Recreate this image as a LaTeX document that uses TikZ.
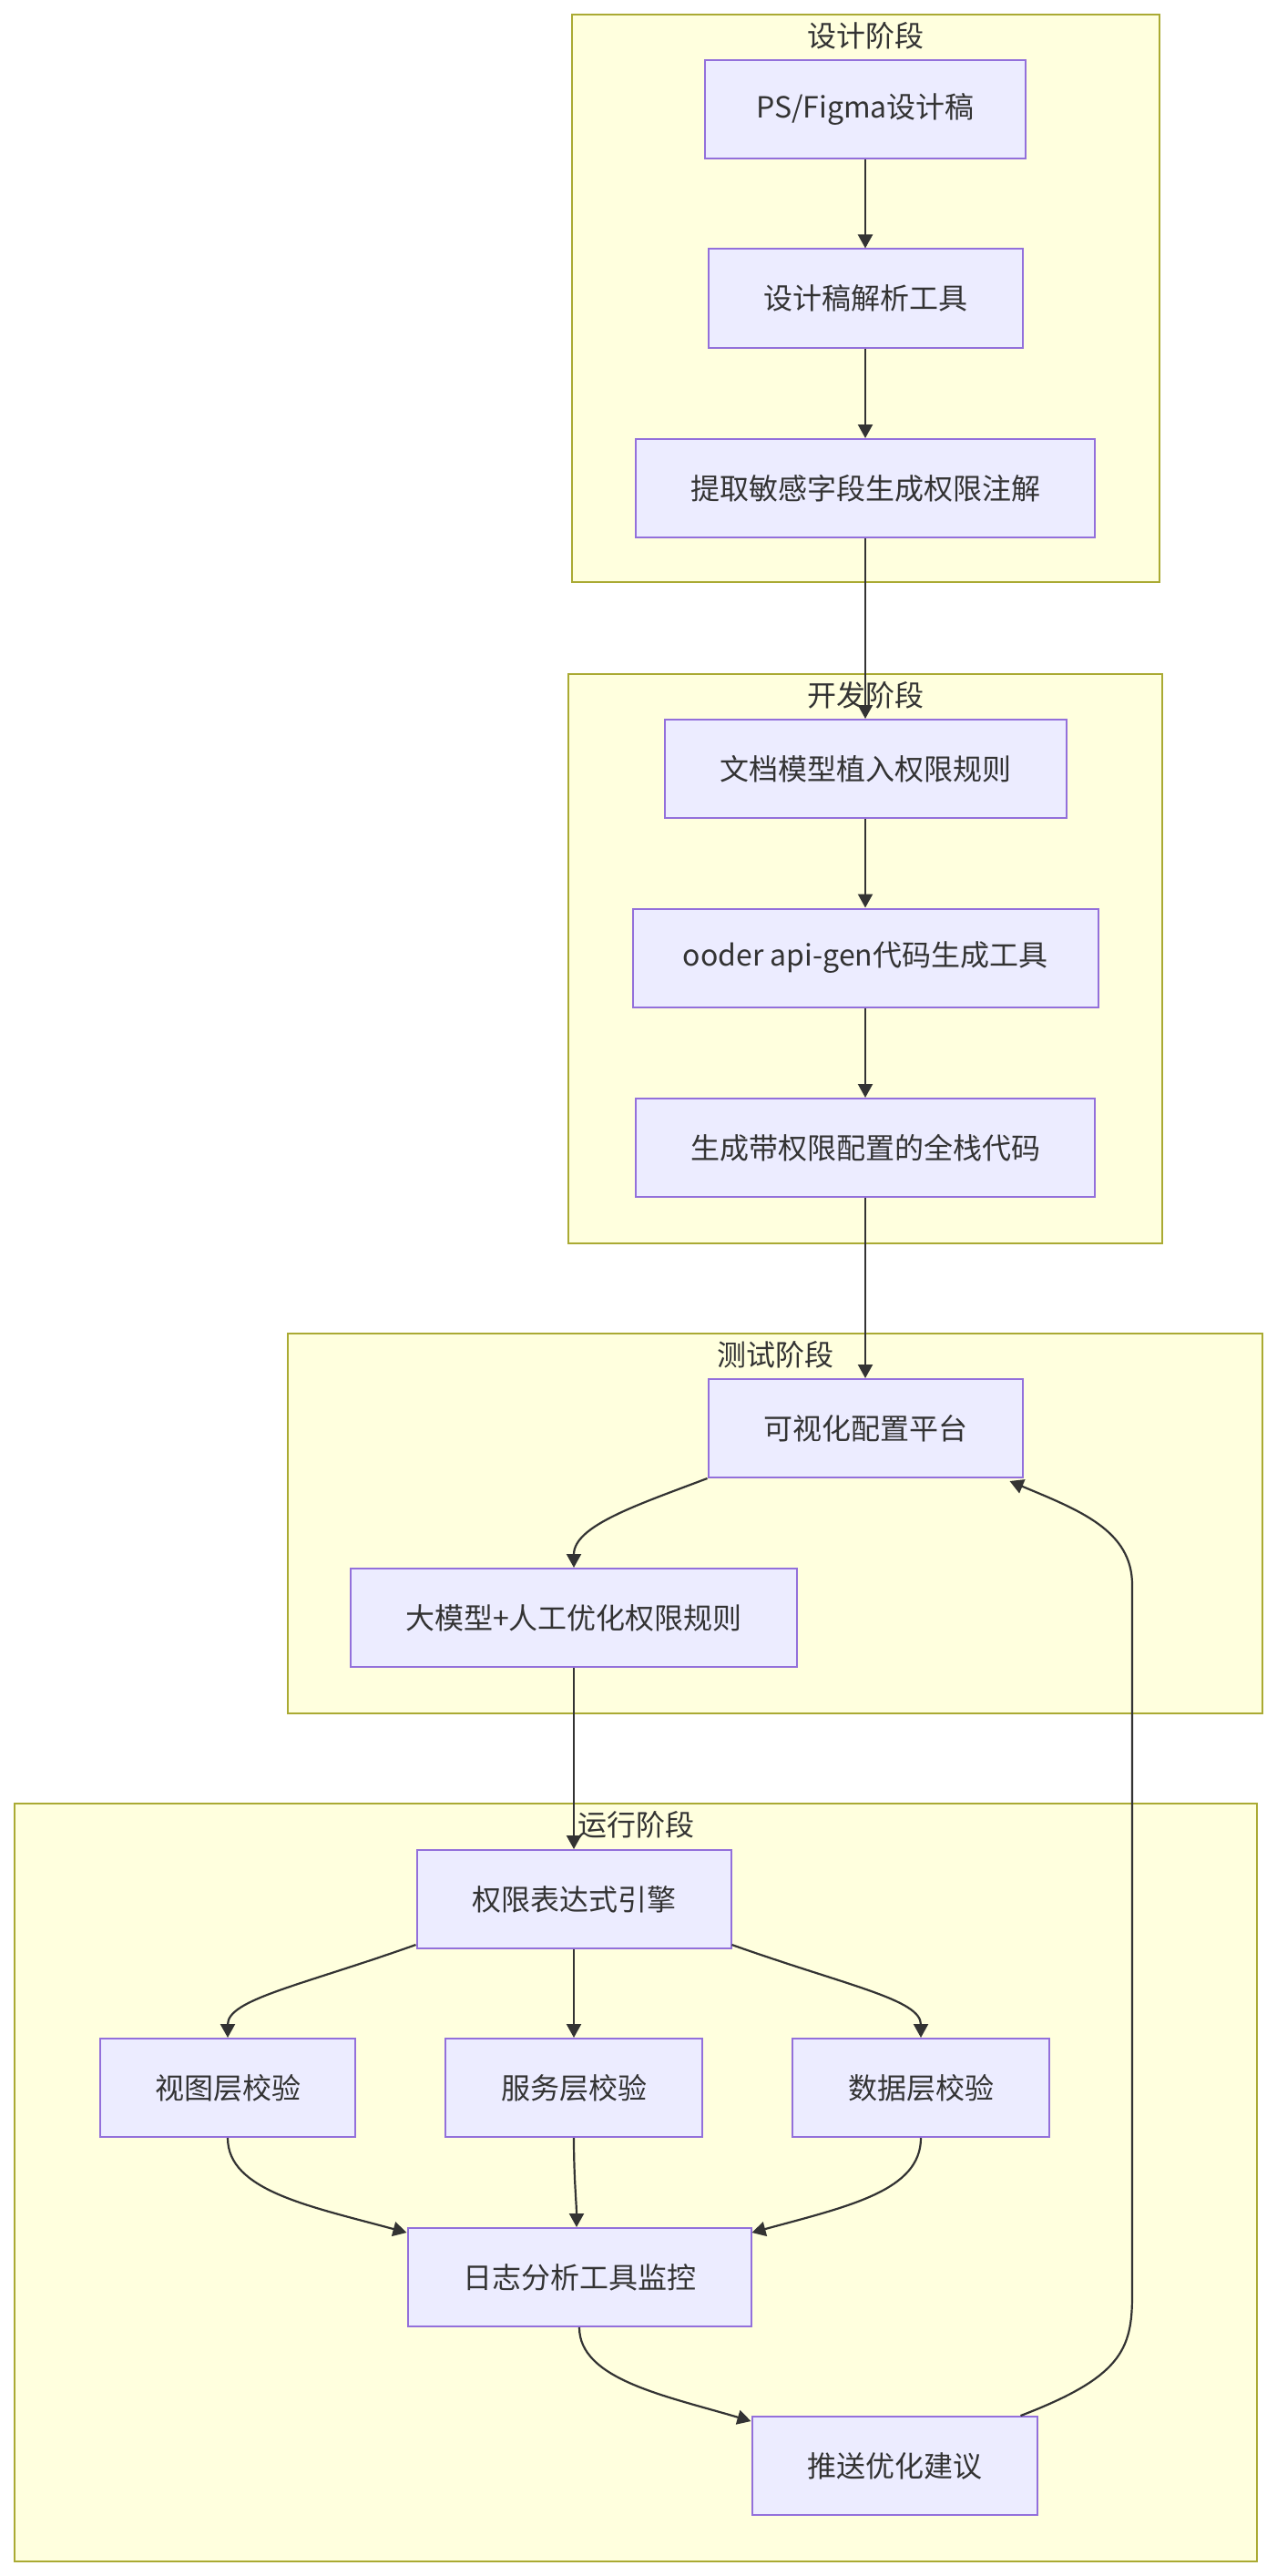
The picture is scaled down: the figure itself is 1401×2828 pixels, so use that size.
\documentclass[tikz,border=0pt]{standalone}
\usepackage{fontspec}
\setmainfont{Noto Sans CJK SC}
\usetikzlibrary{arrows.meta}
\definecolor{nodefill}{HTML}{ECECFF}
\definecolor{nodeline}{HTML}{9370DB}
\definecolor{clfill}{HTML}{FFFFDE}
\definecolor{clline}{HTML}{AAAA33}
\definecolor{txt}{HTML}{333333}
\definecolor{edgecol}{HTML}{333333}
\begin{document}
\begin{tikzpicture}[x=1pt,y=-1pt,
  box/.style={draw=nodeline, fill=nodefill, line width=2pt, minimum height=108pt, inner sep=0pt, text=txt, font=\fontsize{32}{38}\selectfont},
  cluster/.style={draw=clline, fill=clfill, line width=2pt},
  ctitle/.style={text=txt, font=\fontsize{32}{38}\selectfont, inner sep=0pt},
  flow/.style={draw=edgecol, line width=2.2pt, -{Triangle[length=15pt,width=16pt]}}
]
\useasboundingbox[fill=white] (0,0) rectangle (1401,2828);

% clusters
\path[cluster] (628,16) rectangle (1273,639);
\path[cluster] (624,740) rectangle (1276,1365);
\path[cluster] (316,1464) rectangle (1386,1881);
\path[cluster] (16,1980) rectangle (1380,2812);
\node[ctitle] (t1) at (950,39) {设计阶段};
\node[ctitle] (t2) at (950,763) {开发阶段};
\node[ctitle] (t3) at (851,1487) {测试阶段};
\node[ctitle] (t4) at (698,2003) {运行阶段};

% nodes
\node[box, minimum width=352pt] (ps) at (950,120) {PS/Figma设计稿};
\node[box, minimum width=345pt] (parse) at (950,327.5) {设计稿解析工具};
\node[box, minimum width=504pt] (extract) at (950,536) {提取敏感字段生成权限注解};
\node[box, minimum width=441pt] (docmodel) at (950,844) {文档模型植入权限规则};
\node[box, minimum width=511pt] (apigen) at (950,1051.5) {ooder api-gen代码生成工具};
\node[box, minimum width=504pt] (fullstack) at (950,1260) {生成带权限配置的全栈代码};
\node[box, minimum width=345pt] (viz) at (950,1568) {可视化配置平台};
\node[box, minimum width=490pt] (llm) at (630,1776) {大模型+人工优化权限规则};
\node[box, minimum width=345pt] (engine) at (630,2085) {权限表达式引擎};
\node[box, minimum width=280pt] (view) at (250,2292) {视图层校验};
\node[box, minimum width=282pt] (service) at (630,2292) {服务层校验};
\node[box, minimum width=282pt] (data) at (1011,2292) {数据层校验};
\node[box, minimum width=377pt] (log) at (636,2500) {日志分析工具监控};
\node[box, minimum width=313pt] (push) at (982,2707) {推送优化建议};

% edges
\draw[flow] (ps) -- (parse);
\draw[flow] (parse) -- (extract);
\draw[flow] (extract) -- (docmodel);
\draw[flow] (docmodel) -- (apigen);
\draw[flow] (apigen) -- (fullstack);
\draw[flow] (fullstack) -- (viz);
\draw[flow] (viz.south west) .. controls (700,1652) and (630,1675) .. (llm.north);
\draw[flow] (llm) -- (engine);
\draw[flow] ([yshift=5pt]engine.south west) .. controls (330,2180) and (250,2195) .. (view.north);
\draw[flow] (engine) -- (service);
\draw[flow] ([yshift=5pt]engine.south east) .. controls (930,2180) and (1011,2195) .. (data.north);
\draw[flow] (view.south) .. controls (250,2405) and (340,2422) .. ([yshift=-6pt]log.north west);
\draw[flow] (service.south) .. controls (630,2390) and (633,2420) .. ([xshift=-3pt]log.north);
\draw[flow] (data.south) .. controls (1011,2405) and (932,2422) .. ([yshift=-6pt]log.north east);
\draw[flow] (log.south) .. controls (636,2612) and (730,2630) .. ([yshift=-6pt]push.north west);
\draw[flow] ([xshift=-19pt]push.north east) .. controls (1230,2610) and (1243,2580) .. (1243,2520) -- (1243,1740) .. controls (1243,1680) and (1185,1658) .. ([xshift=-15pt,yshift=-3pt]viz.south east);
\end{tikzpicture}
\end{document}
